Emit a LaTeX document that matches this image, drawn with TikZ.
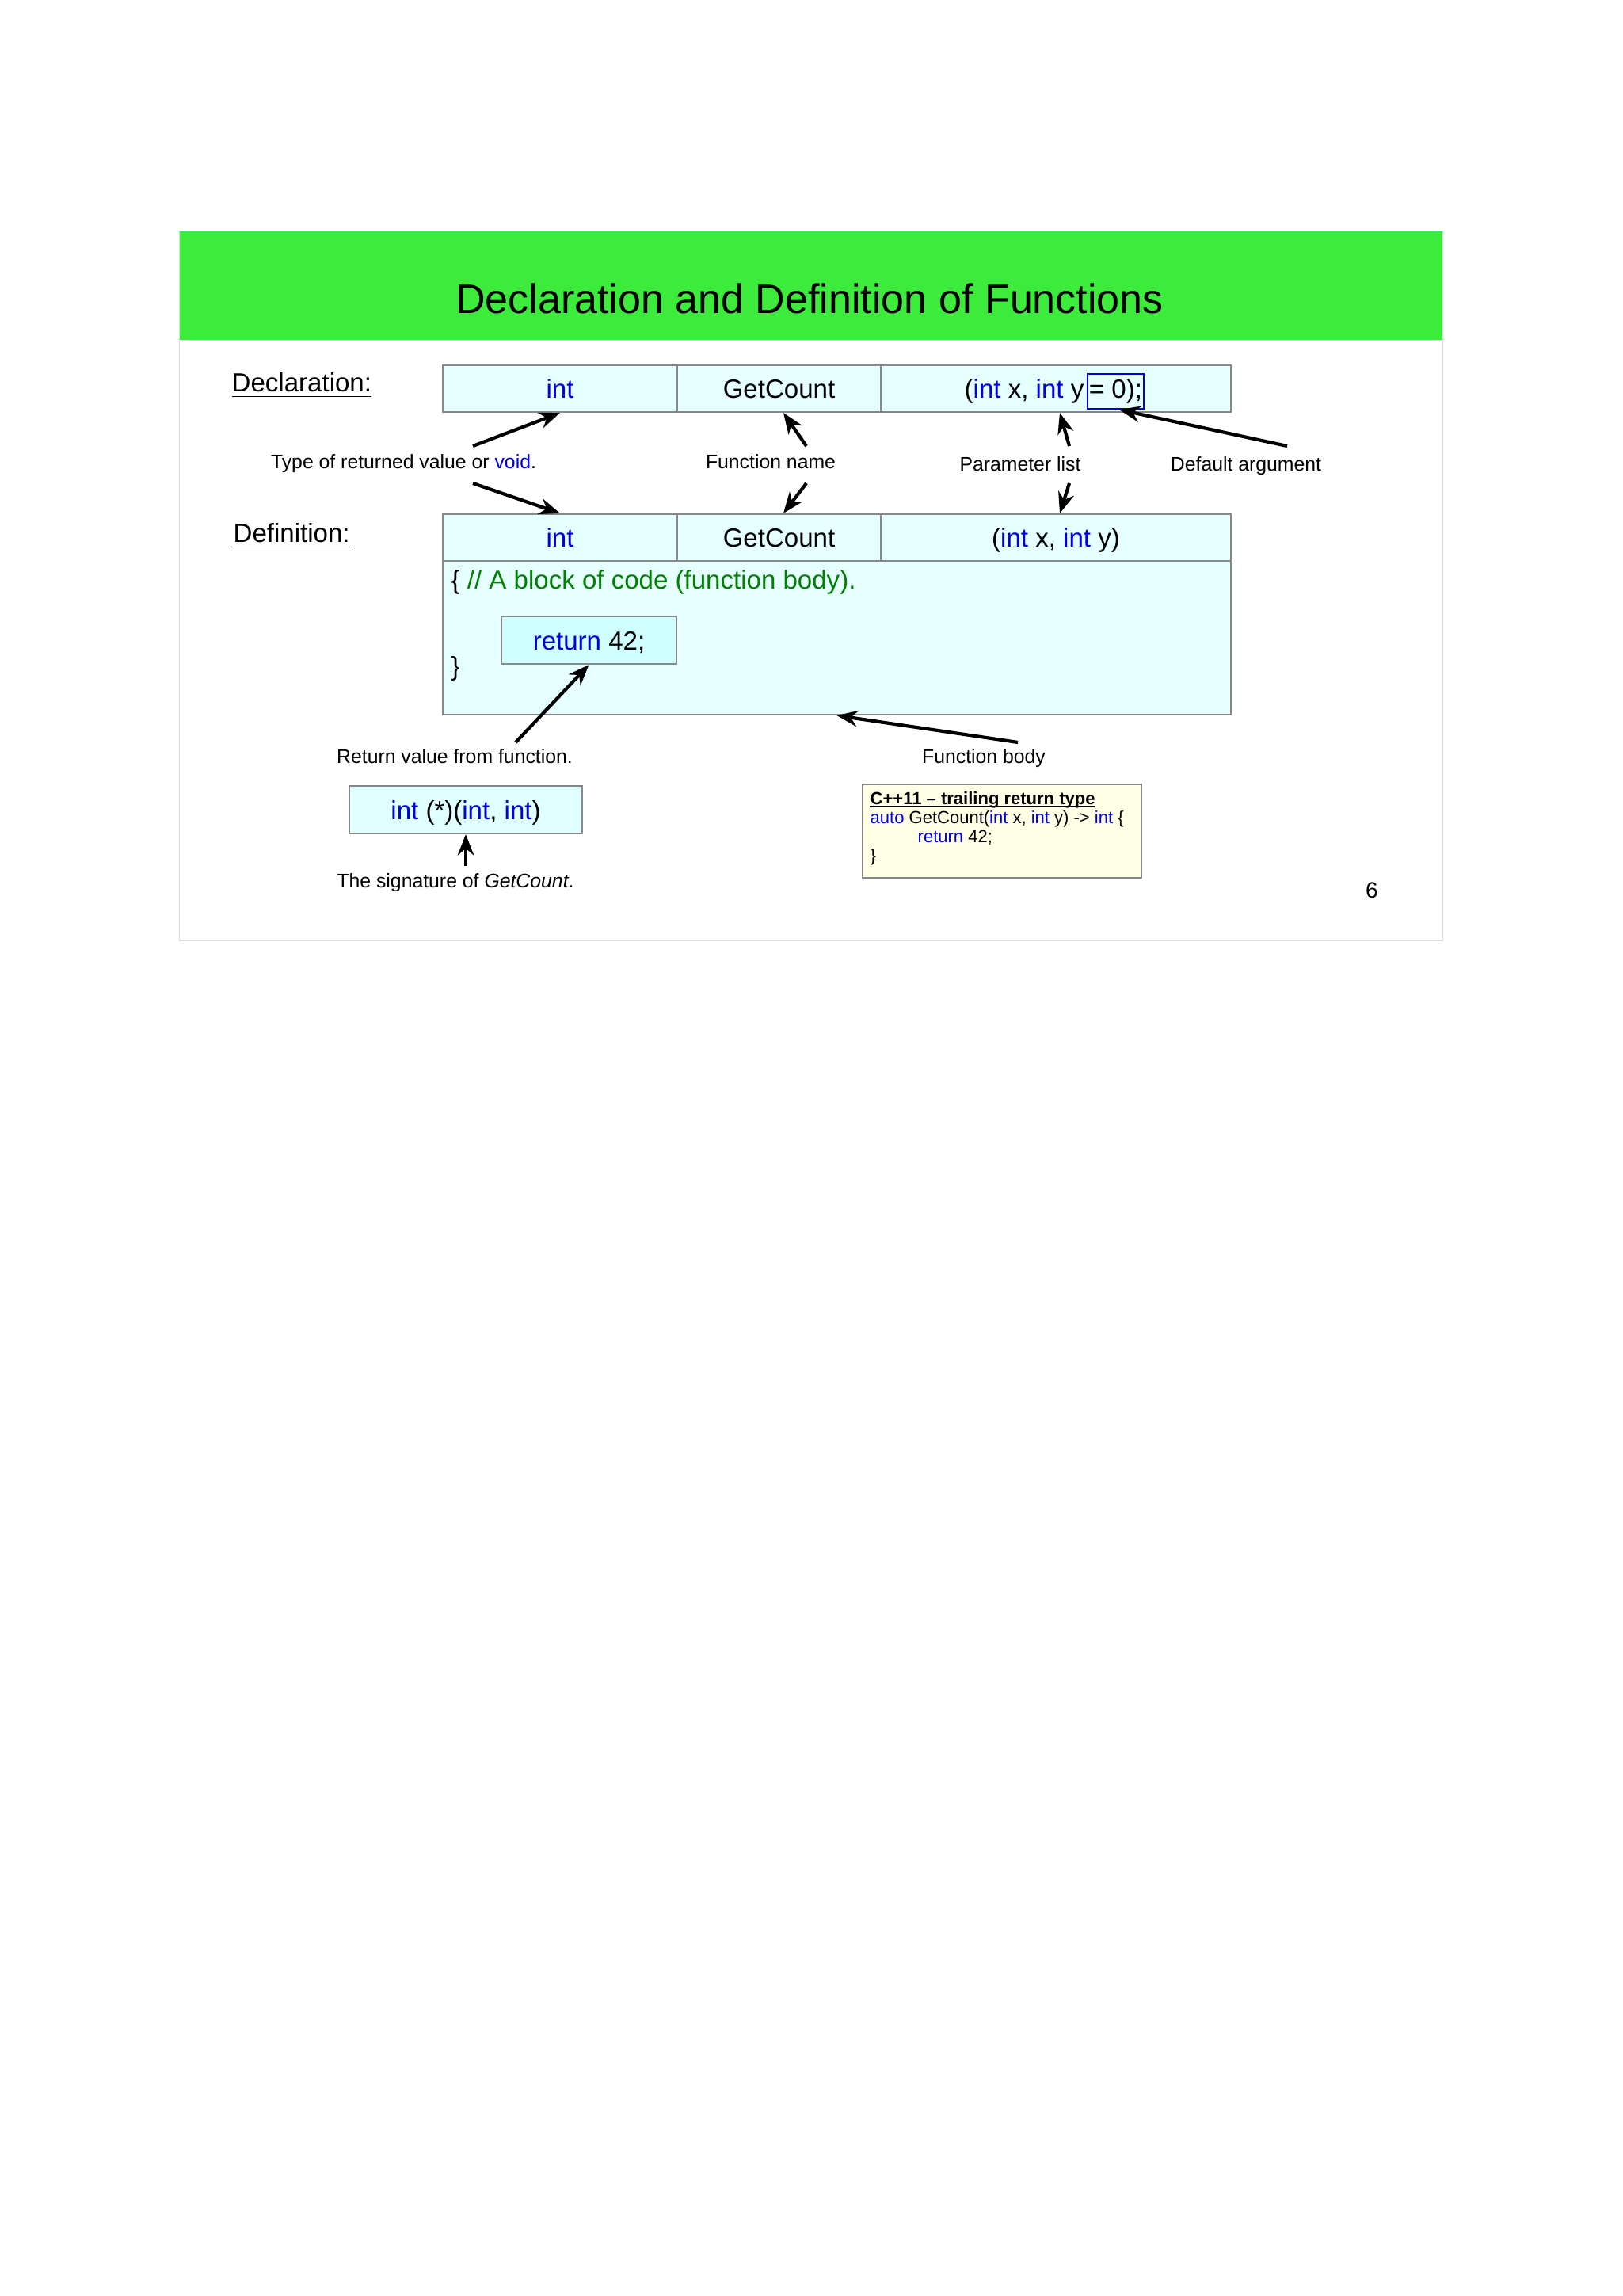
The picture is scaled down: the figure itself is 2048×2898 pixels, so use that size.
\documentclass[tikz,border=0pt]{standalone}
\usepackage{fontspec}
\setmainfont{Liberation Sans}
\usetikzlibrary{arrows.meta}
\definecolor{kw}{RGB}{0,0,221}
\definecolor{cmt}{RGB}{0,128,0}
\definecolor{slidegreen}{RGB}{61,235,61}
\definecolor{cellfill}{RGB}{230,255,255}
\definecolor{retfill}{RGB}{208,255,255}
\definecolor{sigfill}{RGB}{224,255,255}
\definecolor{notefill}{RGB}{255,255,230}
\definecolor{cellline}{RGB}{136,136,136}
\definecolor{framegray}{RGB}{220,220,220}
\newcommand{\kw}[1]{\textcolor{kw}{#1}}
\begin{document}
\begin{tikzpicture}[x=0.01cm,y=-0.01cm,
 boxfont/.style={font=\fontsize{9.4pt}{11pt}\selectfont},
 lblfont/.style={font=\fontsize{7.05pt}{8.5pt}\selectfont},
 cell/.style={draw=cellline, line width=0.6pt, fill=cellfill, inner sep=0pt,
   text height=0.24cm, text depth=0pt, boxfont, minimum height=0.59cm},
 lbl/.style={inner sep=0pt, anchor=base, lblfont},
 cppline/.style={anchor=base west, inner sep=0pt, font=\fontsize{6.26pt}{7pt}\selectfont},
 arr/.style={line width=1.2pt, -{Stealth[length=7.5pt,width=5.8pt]}},
]
\useasboundingbox (0,0) rectangle (2048,2898);
\fill[white] (0,0) rectangle (2048,2898);

% slide frame and title band
\node[draw=framegray, line width=0.5pt, minimum width=15.94cm, minimum height=8.95cm, inner sep=0pt] (slide) at (1024,739.5) {};
\node[fill=slidegreen, minimum width=15.94cm, minimum height=1.37cm, inner sep=0pt, anchor=north] (band) at (slide.north) {};
\node[anchor=base, inner sep=0pt, font=\fontsize{14.8pt}{17pt}\selectfont] (title) at (1022,396) {Declaration and Definition of Functions};

% section labels
\node[anchor=base west, inner sep=0pt, boxfont] (decl) at (292,495) {\underline{Declaration:}};
\node[anchor=base west, inner sep=0pt, boxfont] (defn) at (294,685) {\underline{Definition:}};

% declaration row
\node[cell, minimum width=2.96cm] (dint) at (707,490.5) {\kw{int}};
\node[cell, minimum width=2.57cm] (dname) at (983.5,490.5) {GetCount};
\node[cell, minimum width=4.42cm] (dparams) at (1333,490.5) {};
\node[anchor=base east, inner sep=0pt, boxfont] (dptext) at (1369,502.5) {(\kw{int} x, \kw{int} y};
\node[draw=kw, line width=0.6pt, inner sep=0pt, minimum width=0.71cm, minimum height=0.44cm,
      text height=0.24cm, text depth=0.07cm, boxfont] (dflt) at (1408.5,494) {= 0);};

% definition body and row
\node[cell, minimum width=9.95cm, minimum height=1.94cm] (body) at (1056.5,805) {};
\node[cell, minimum width=2.96cm] (fint) at (707,678.5) {\kw{int}};
\node[cell, minimum width=2.57cm] (fname) at (983.5,678.5) {GetCount};
\node[cell, minimum width=4.42cm] (fparams) at (1333,678.5) {(\kw{int} x, \kw{int} y)};
\node[anchor=base west, inner sep=0pt, boxfont] (open) at (569,744) {\{ \textcolor{cmt}{// A block of code (function body).}};
\node[anchor=base west, inner sep=0pt, boxfont] (close) at (569,853) {\}};
\node[cell, fill=retfill, minimum width=2.21cm, minimum height=0.60cm] (ret) at (743.5,808) {\kw{return} 42;};

% labels
\node[lbl] (typelbl) at (509.5,592) {Type of returned value or \kw{void}.};
\node[lbl] (namelbl) at (973,592) {Function name};
\node[lbl] (paramlbl) at (1288,595) {Parameter list};
\node[lbl] (dfltlbl) at (1573,595) {Default argument};
\node[lbl] (retlbl) at (574,964) {Return value from function.};
\node[lbl] (bodylbl) at (1242,964) {Function body};

% signature
\node[cell, fill=sigfill, minimum width=2.94cm, minimum height=0.60cm] (sig) at (588,1022) {\kw{int} (*)(\kw{int}, \kw{int})};
\node[lbl] (siglbl) at (575,1120) {The signature of \textit{GetCount}.};

% C++11 note
\node[draw=cellline, line width=0.6pt, fill=notefill, minimum width=3.52cm, minimum height=1.18cm, inner sep=0pt] (cpp) at (1265,1049) {};
\node[cppline] (c1) at (1098,1015) {\textbf{C++11 – trailing return type}};
\draw[line width=0.55pt] ([yshift=-0.75pt]c1.base west) -- ([yshift=-0.75pt]c1.base east);
\node[cppline] (c2) at (1098,1039) {\kw{auto} GetCount(\kw{int} x, \kw{int} y) -> \kw{int} \{};
\node[cppline] (c3) at (1158,1063) {\kw{return} 42;};
\node[cppline] (c4) at (1098,1087) {\}};

% page number
\node[anchor=base, inner sep=0pt, font=\fontsize{8pt}{9pt}\selectfont] (pnum) at (1732,1133) {6};

% arrow tails
\coordinate (tTypeUp) at (597,563);
\coordinate (tNameUp) at (1018,563);
\coordinate (tParamUp) at (1350,563);
\coordinate (tDflt) at (1625,563);
\coordinate (tTypeDn) at (597,610);
\coordinate (tNameDn) at (1018,610);
\coordinate (tParamDn) at (1350,610);
\coordinate (tRet) at (651,937);
\coordinate (tBody) at (1285,937);
\coordinate (tSig) at (588,1093);

% arrows
\draw[arr] (tTypeUp) -- (dint.south);
\draw[arr] (tNameUp) -- ([xshift=0.055cm]dname.south);
\draw[arr] (tParamUp) -- ([xshift=0.05cm]dparams.south);
\draw[arr] (tDflt) -- ([xshift=0.045cm]dflt.south);
\draw[arr] (tTypeDn) -- (fint.north);
\draw[arr] (tNameDn) -- ([xshift=0.055cm]fname.north);
\draw[arr] (tParamDn) -- ([xshift=0.05cm]fparams.north);
\draw[arr] (tRet) -- (ret.south);
\draw[arr] (tBody) -- (body.south);
\draw[arr] (tSig) -- (sig.south);
\end{tikzpicture}
\end{document}
